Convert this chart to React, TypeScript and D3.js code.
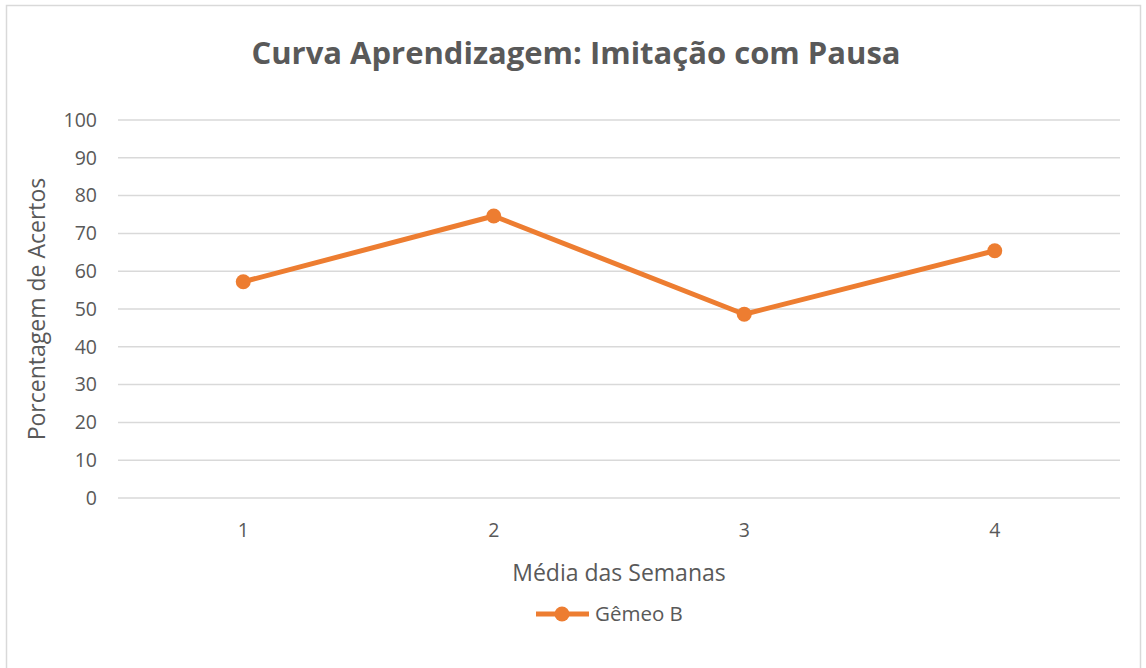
import React from 'react';
import * as d3 from 'd3';

// chart data
const weeks = ['1', '2', '3', '4'];
const gemeoB = [57.2, 74.6, 48.6, 65.4];
const yTicks = [0, 10, 20, 30, 40, 50, 60, 70, 80, 90, 100];

const W = 1146, H = 668;
const M = { t: 120, r: 26, b: 170, l: 118 };
const ORANGE = '#ED7D31';
const TXT = '#595959';
const FONT = '"Open Sans", "Liberation Sans", sans-serif';

export default function App() {
  const x = d3.scaleBand().domain(weeks).range([M.l, W - M.r]);
  const y = d3.scaleLinear().domain([0, 100]).range([H - M.b, M.t]);
  const cx = (d: string) => (x(d) as number) + x.bandwidth() / 2;

  const line = d3.line<number>()
    .x((_, i) => cx(weeks[i]))
    .y(d => y(d));

  return (
    <svg
      width={W}
      height={H}
      style={{ position: 'absolute', left: 0, top: 0, background: '#fff', fontFamily: FONT }}
    >
      {/* chart frame */}
      <rect x={6.5} y={5.5} width={1134} height={670} fill="#fff" stroke="#d9d9d9" strokeWidth={1.5} />

      <text x={576} y={64} textAnchor="middle" fontSize={31} fontWeight={700} fill={TXT}>
        Curva Aprendizagem: Imitação com Pausa
      </text>

      {/* gridlines + y labels */}
      {yTicks.map(t => (
        <g key={t}>
          <line x1={M.l} x2={W - M.r} y1={y(t)} y2={y(t)} stroke="#d9d9d9" strokeWidth={1.5} />
          <text x={97} y={y(t)} dy="0.35em" textAnchor="end" fontSize={19.5} fill={TXT}>{t}</text>
        </g>
      ))}

      {/* x labels */}
      {weeks.map(w => (
        <text key={w} x={cx(w)} y={537} textAnchor="middle" fontSize={19.5} fill={TXT}>{w}</text>
      ))}

      {/* axis titles */}
      <text
        transform={`translate(45,${(y(0) + y(100)) / 2}) rotate(-90)`}
        textAnchor="middle" fontSize={23} fill={TXT}
      >
        Porcentagem de Acertos
      </text>
      <text x={(M.l + W - M.r) / 2} y={581} textAnchor="middle" fontSize={23} fill={TXT}>
        Média das Semanas
      </text>

      {/* series */}
      <path d={line(gemeoB) || ''} fill="none" stroke={ORANGE} strokeWidth={5} strokeLinejoin="round" />
      {gemeoB.map((v, i) => (
        <circle key={i} cx={cx(weeks[i])} cy={y(v)} r={7.5} fill={ORANGE} />
      ))}

      {/* legend */}
      <line x1={536} x2={589} y1={614} y2={614} stroke={ORANGE} strokeWidth={5} />
      <circle cx={562} cy={614} r={7.5} fill={ORANGE} />
      <text x={595} y={614} dy="0.35em" fontSize={20.5} fill={TXT}>Gêmeo B</text>
    </svg>
  );
}
